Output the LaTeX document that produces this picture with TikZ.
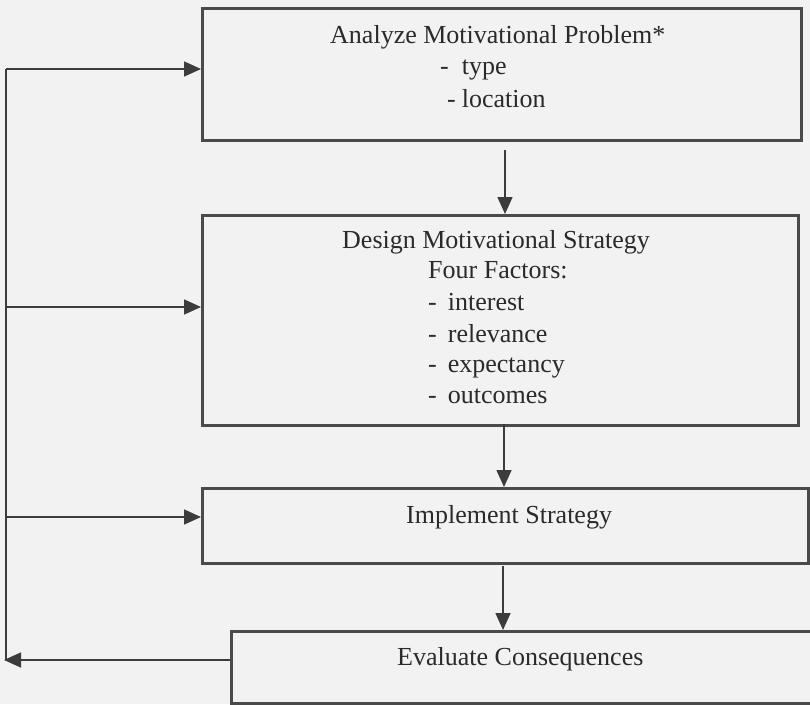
\documentclass[tikz,border=0pt]{standalone}
\usepackage{fontspec}
\setmainfont{Liberation Serif}
\usetikzlibrary{arrows.meta}
\definecolor{bgc}{HTML}{F2F2F2}
\definecolor{boxc}{HTML}{4A4A4A}
\definecolor{linec}{HTML}{3C3C3C}
\definecolor{txtc}{HTML}{2A2A2A}
\begin{document}
\begin{tikzpicture}[x=1pt,y=-1pt,
  box/.style={draw=boxc, line width=2.6pt, fill=bgc, inner sep=0pt, anchor=north west},
  conn/.style={draw=linec, line width=1.6pt},
  tip/.style={-{Triangle[length=17pt,width=15pt]}, fill=linec},
  lbl/.style={anchor=base west, inner sep=0pt, font=\fontsize{26}{31}\selectfont, text=txtc}]
\fill[bgc] (0,0) rectangle (810,704);
\useasboundingbox (0,0) rectangle (810,704);
% boxes
\node[box, minimum width=599pt, minimum height=132pt] (b1) at (201,7) {};
\node[box, minimum width=596pt, minimum height=210pt] (b2) at (201,214) {};
\node[box, minimum width=606pt, minimum height=75pt] (b3) at (201,487) {};
\node[box, minimum width=590pt, minimum height=72pt] (b4) at (230,630) {};
% texts
\node[lbl] (t11) at (330,43) {Analyze Motivational Problem*};
\node[lbl] (t12) at (440,74) {-\hspace{13pt}type};
\node[lbl] (t13) at (447,107) {-\hspace{6pt}location};
\node[lbl] (t21) at (342,248) {Design Motivational Strategy};
\node[lbl] (t22) at (428,278) {Four Factors:};
\node[lbl] (t23) at (428,310) {-\hspace{11pt}interest};
\node[lbl] (t24) at (428,342) {-\hspace{11pt}relevance};
\node[lbl] (t25) at (428,372) {-\hspace{11pt}expectancy};
\node[lbl] (t26) at (428,403) {-\hspace{11pt}outcomes};
\node[lbl] (t31) at (406,523) {Implement Strategy};
\node[lbl] (t41) at (397,665) {Evaluate Consequences};
% connector coordinates
\coordinate (l1) at (6,69);
\coordinate (l2) at (6,307);
\coordinate (l3) at (6,517);
\coordinate (lb) at (6,660);
\coordinate (a1) at (505,150);
\coordinate (a2) at (504,424);
\coordinate (a3) at (503,566);
% feedback loop
\draw[conn] (l1) -- (lb);
\draw[conn, tip] (l1) -- (b1.west |- l1);
\draw[conn, tip] (l2) -- (b2.west |- l2);
\draw[conn, tip] (l3) -- (b3.west |- l3);
\draw[conn, tip] (b4.west |- lb) -- ([xshift=-2pt]lb);
% vertical flow
\draw[conn, tip] (a1) -- (a1 |- b2.north);
\draw[conn, tip] (a2) -- (a2 |- b3.north);
\draw[conn, tip] (a3) -- (a3 |- b4.north);
\end{tikzpicture}
\end{document}
